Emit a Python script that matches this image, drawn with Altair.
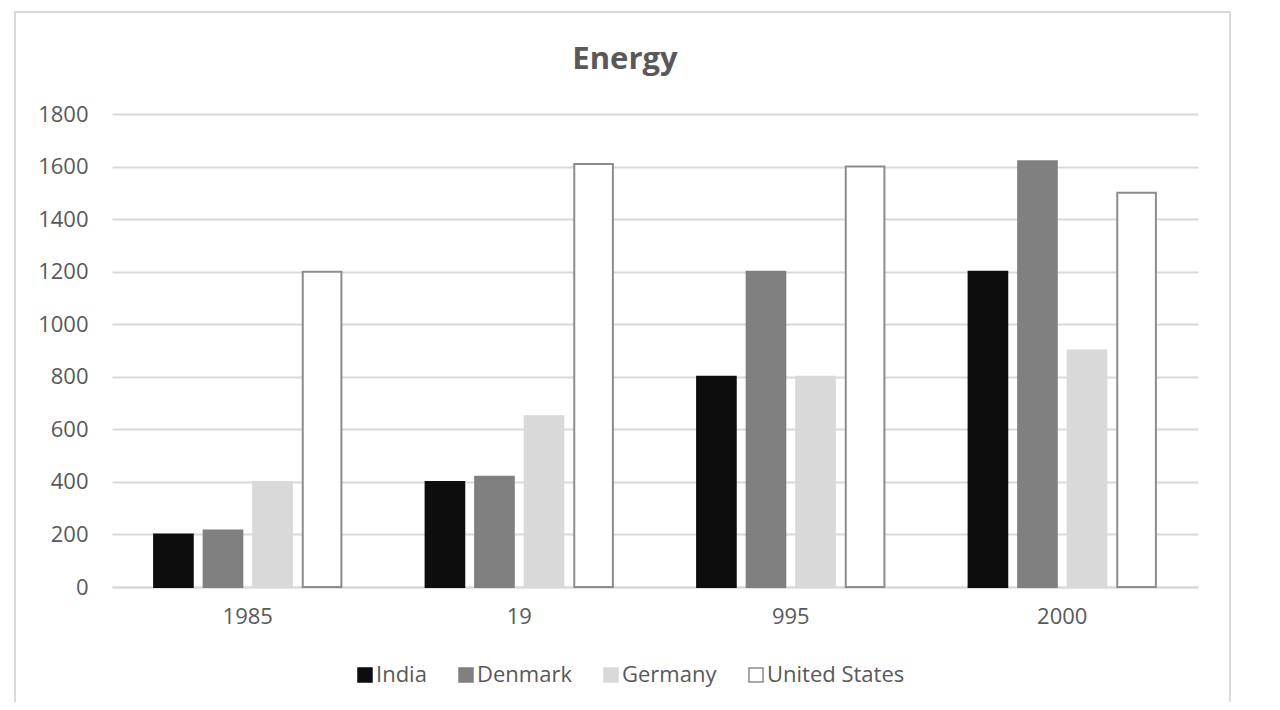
import altair as alt
import pandas as pd

years = ["1985", "19", "995", "2000"]
countries = ["India", "Denmark", "Germany", "United States"]
india = [200, 400, 800, 1200]
denmark = [215, 420, 1200, 1620]
germany = [400, 650, 800, 900]
united_states = [1200, 1610, 1600, 1500]

series = {"India": india, "Denmark": denmark, "Germany": germany, "United States": united_states}
rows = []
for c in countries:
    for y, v in zip(years, series[c]):
        rows.append({"year": y, "country": c, "value": v})
df = pd.DataFrame(rows)

fills = ["#0d0d0d", "#808080", "#d9d9d9", "#ffffff"]
strokes = ["#0d0d0d", "#808080", "#d9d9d9", "#8c8c8c"]

FONT = "Open Sans"

bars = alt.Chart(df).mark_bar(strokeWidth=2).encode(
    x=alt.X("year:N", sort=years, title=None,
            scale=alt.Scale(paddingInner=0.27, paddingOuter=0.135),
            axis=alt.Axis(labelAngle=0, ticks=False, domain=True, domainColor="#d9d9d9",
                          domainWidth=2, labelPadding=19, labelFontSize=22,
                          labelColor="#595959", labelFont=FONT, grid=False)),
    xOffset=alt.XOffset("country:N", sort=countries,
                        scale=alt.Scale(paddingInner=0.22, paddingOuter=0.11)),
    y=alt.Y("value:Q", title=None,
            scale=alt.Scale(domain=[0, 1800]),
            axis=alt.Axis(values=list(range(0, 1801, 200)), format="d", ticks=False, domain=False,
                          gridColor="#d9d9d9", gridWidth=2, labelPadding=24,
                          labelFontSize=22, labelColor="#595959", labelFont=FONT)),
    fill=alt.Fill("country:N", sort=countries, title=None,
                  scale=alt.Scale(domain=countries, range=fills)),
    stroke=alt.Stroke("country:N", sort=countries, title=None,
                      scale=alt.Scale(domain=countries, range=strokes)),
)

frame = alt.Chart(pd.DataFrame({"k": [0]})).mark_rect(
    fillOpacity=0, stroke="#d9d9d9", strokeWidth=2
).encode(x=alt.value(-97), x2=alt.value(1118), y=alt.value(-102), y2=alt.value(620))

chart = alt.layer(frame, bars).properties(
    width=1086, height=473,
    title=alt.TitleParams("Energy", fontSize=31, font=FONT, fontWeight="bold",
                          color="#595959", anchor="middle", dx=-30, offset=-65),
    autosize=alt.AutoSizeParams(type="none"),
    padding={"left": 104, "top": 106, "right": 74, "bottom": 115},
).configure_view(stroke=None).configure_legend(
    orient="none", legendX=242, legendY=550, direction="horizontal",
    symbolType="square", symbolSize=196, symbolStrokeWidth=1.5,
    labelFontSize=22, labelFont=FONT, labelColor="#595959", labelOffset=0,
    columnPadding=28, padding=0,
)

chart.save("out.html", embed_options={"renderer": "svg", "actions": False})
